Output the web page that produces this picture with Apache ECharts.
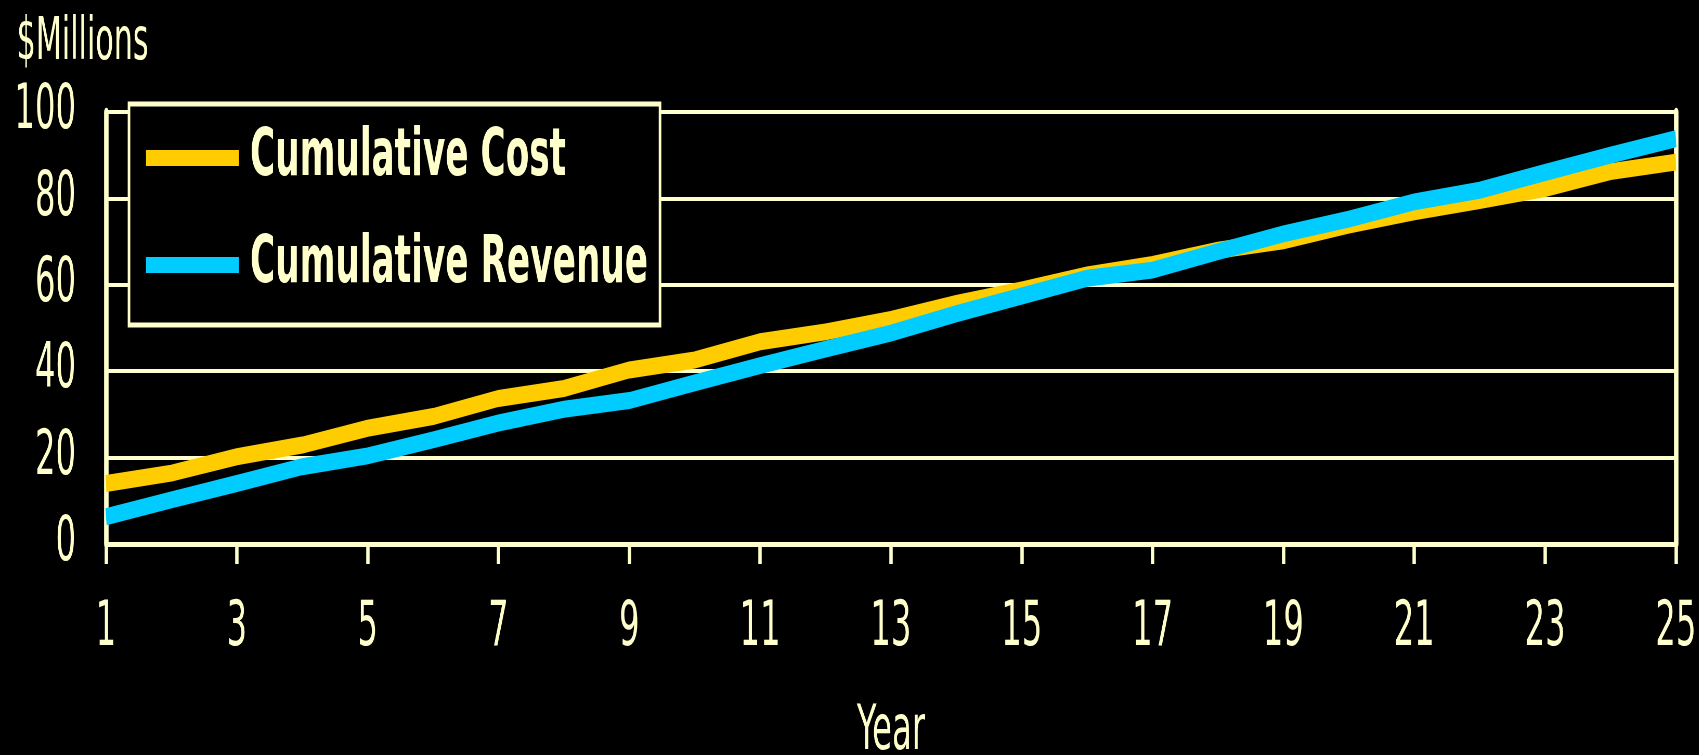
<!DOCTYPE html>
<html>
<head>
<meta charset="utf-8">
<script src="https://cdn.jsdelivr.net/npm/echarts@6/dist/echarts.min.js"></script>
<style>
html, body { margin: 0; padding: 0; background: #000; overflow: hidden; width: 1699px; height: 755px; }
#chart { height: 755px; transform-origin: 0 0; }
</style>
</head>
<body>
<div id="chart"></div>
<script>
// ---- data ----
const years = ['1','2','3','4','5','6','7','8','9','10','11','12','13','14','15','16','17','18','19','20','21','22','23','24','25'];
const cumulativeCost = [14.0, 16.4, 20.2, 22.9, 26.8, 29.5, 33.7, 36.0, 40.3, 42.6, 46.8, 49.1, 52.0, 55.7, 58.8, 62.3, 64.7, 68.0, 70.2, 73.8, 76.9, 79.5, 82.3, 86.2, 88.4];
const cumulativeRevenue = [6.3, 10.2, 14.0, 17.9, 20.4, 24.1, 28.0, 31.2, 33.2, 37.3, 41.3, 45.1, 48.8, 53.3, 57.4, 61.5, 63.4, 67.7, 71.8, 75.2, 79.2, 81.9, 86.0, 90.0, 93.8];
const seriesNames = ['Cumulative Cost', 'Cumulative Revenue'];
const yUnit = '$Millions';
const xName = 'Year';

// ---- layout (the original artwork uses a horizontally condensed face) ----
const SX = 0.52;
const W = 1699 / SX;
const el = document.getElementById('chart');
el.style.width = W + 'px';
el.style.transform = 'scaleX(' + SX + ')';

const FG = '#FFFFCC';
const FONT = 'DejaVu Sans';
const X = v => v / SX;

const chart = echarts.init(el, null, { renderer: 'canvas' });
chart.setOption({
  backgroundColor: '#000000',
  animation: false,
  textStyle: { fontFamily: FONT, color: FG },
  title: {
    text: yUnit,
    left: X(14),
    top: 8,
    textStyle: { fontFamily: FONT, fontSize: 58, fontWeight: 'normal', color: FG, lineHeight: 62 }
  },
  legend: {
    data: seriesNames,
    orient: 'vertical',
    left: X(129),
    top: 104,
    icon: 'rect',
    itemWidth: X(93),
    itemHeight: 16,
    itemGap: 19,
    padding: [10, X(12), 16, X(17)],
    backgroundColor: '#000000',
    borderColor: FG,
    borderWidth: 5,
    textStyle: { fontFamily: FONT, fontSize: 66, fontWeight: 'bold', color: FG, lineHeight: 66, padding: [22, 0, 0, X(11) - 5] }
  },
  grid: {
    left: X(106),
    right: X(1699 - 1676),
    top: 112,
    bottom: 755 - 544,
    containLabel: false,
    outerBoundsMode: 'none'
  },
  xAxis: {
    type: 'category',
    data: years,
    boundaryGap: false,
    name: xName,
    nameLocation: 'middle',
    nameGap: 158,
    nameTextStyle: { fontFamily: FONT, fontSize: 62, color: FG },
    axisLine: { show: true, lineStyle: { color: FG, width: 5 } },
    axisTick: { show: true, interval: 1, length: 20, lineStyle: { color: FG, width: X(3.4) } },
    axisLabel: { interval: 1, margin: 54, fontFamily: FONT, fontSize: 62, color: FG },
    splitLine: { show: false }
  },
  yAxis: [
    {
      type: 'value',
      min: 0,
      max: 100,
      interval: 20,
      position: 'left',
      axisLine: { show: true, lineStyle: { color: FG, width: X(4.5) } },
      axisTick: { show: false },
      axisLabel: { margin: X(30), fontFamily: FONT, fontSize: 62, color: FG, padding: [8, 0, 0, 0] },
      splitLine: { show: true, lineStyle: { color: FG, width: 4 } }
    },
    {
      type: 'value',
      min: 0,
      max: 100,
      interval: 20,
      position: 'right',
      axisLine: { show: true, lineStyle: { color: FG, width: X(4.5) } },
      axisTick: { show: false },
      axisLabel: { show: false },
      splitLine: { show: false }
    }
  ],
  series: [
    {
      name: seriesNames[0],
      type: 'line',
      data: cumulativeCost,
      yAxisIndex: 0,
      showSymbol: false,
      symbol: 'none',
      color: '#FFCC00',
      lineStyle: { color: '#FFCC00', width: 17, cap: 'butt', join: 'miter' },
      z: 3
    },
    {
      name: seriesNames[1],
      type: 'line',
      data: cumulativeRevenue,
      yAxisIndex: 0,
      showSymbol: false,
      symbol: 'none',
      color: '#00CCFF',
      lineStyle: { color: '#00CCFF', width: 17, cap: 'butt', join: 'miter' },
      z: 4
    }
  ]
});
</script>
</body>
</html>
